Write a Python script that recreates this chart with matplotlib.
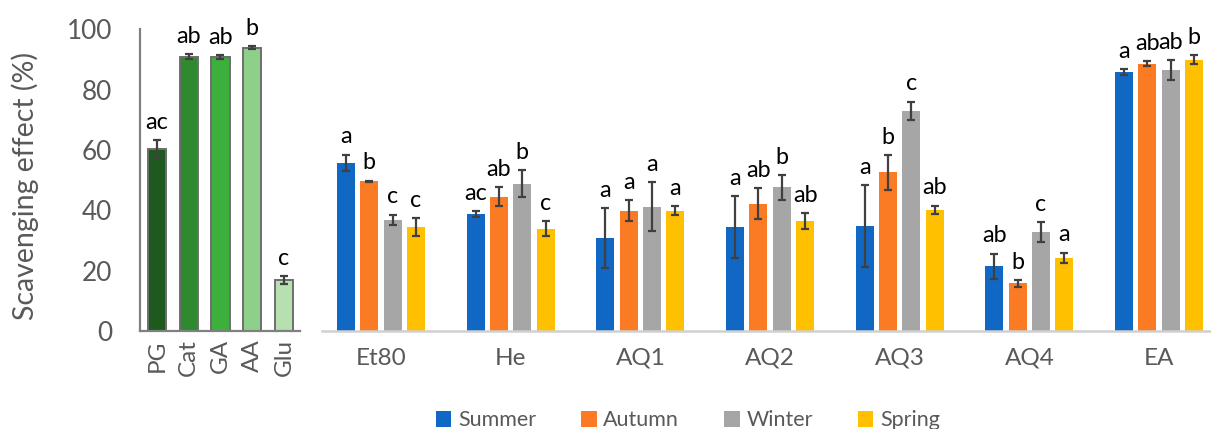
import matplotlib
matplotlib.use("Agg")
import matplotlib.pyplot as plt
from matplotlib.patches import Patch
import numpy as np

plt.rcParams["font.family"] = ["Lato", "DejaVu Sans"]

# Reference antioxidants
std_names = ["PG", "Cat", "GA", "AA", "Glu"]
std_values = [60.3, 91.0, 90.8, 94.0, 16.8]
std_errors = [2.9, 0.9, 0.7, 0.5, 1.3]
std_letters = ["ac", "ab", "ab", "b", "c"]
std_colors = ["#1E5A1E", "#2F8A2F", "#3DAF3D", "#8ED08A", "#B7DFB0"]

# Extracts by season
extracts = ["Et80", "He", "AQ1", "AQ2", "AQ3", "AQ4", "EA"]
seasons = ["Summer", "Autumn", "Winter", "Spring"]
season_colors = ["#1068C4", "#FB7A24", "#A6A6A6", "#FFC000"]

summer = [55.7, 38.9, 30.8, 34.5, 34.9, 21.4, 85.9]
autumn = [49.6, 44.6, 39.9, 42.2, 52.6, 15.8, 88.7]
winter = [36.9, 48.9, 41.2, 47.6, 73.1, 32.8, 86.5]
spring = [34.5, 33.9, 39.9, 36.5, 40.2, 24.2, 89.9]

summer_err = [2.8, 1.0, 9.9, 10.2, 13.6, 4.3, 1.1]
autumn_err = [0.3, 3.2, 3.4, 5.1, 5.8, 1.1, 0.8]
winter_err = [1.7, 4.4, 8.1, 4.2, 3.0, 3.4, 3.4]
spring_err = [3.0, 2.5, 1.4, 2.7, 1.4, 1.8, 1.5]

summer_letters = ["a", "ac", "a", "a", "a", "ab", "a"]
autumn_letters = ["b", "ab", "a", "ab", "b", "b", "ab"]
winter_letters = ["c", "b", "a", "b", "c", "c", "ab"]
spring_letters = ["c", "c", "a", "ab", "ab", "a", "b"]

season_values = [summer, autumn, winter, spring]
season_errors = [summer_err, autumn_err, winter_err, spring_err]
season_letters = [summer_letters, autumn_letters, winter_letters, spring_letters]

TEXT_GREY = "#595959"
ERR_COLOR = "#404040"
err_kw = dict(ecolor=ERR_COLOR, elinewidth=1.6, capsize=3.2, capthick=1.6)
LETTER_SIZE = 16.8

fig = plt.figure(figsize=(12.11, 4.29), dpi=100)

# ---- left panel: standards ----
ax1 = fig.add_axes([0.1156, 0.2284, 0.132, 0.703])
x1 = np.arange(len(std_names))
ax1.bar(x1, std_values, width=0.57, color=std_colors, edgecolor="#6E6E6E",
        linewidth=1.4, yerr=std_errors, error_kw=err_kw, zorder=2)
for xi, v, e, lab in zip(x1, std_values, std_errors, std_letters):
    ax1.annotate(lab, (xi, v + e), xytext=(0, 8), textcoords="offset points",
                 ha="center", va="baseline", fontsize=LETTER_SIZE, color="black")
ax1.set_xlim(-0.535, 4.5)
ax1.set_ylim(0, 100)
ax1.set_yticks(range(0, 101, 20))
ax1.set_xticks(x1)
ax1.set_xticklabels(std_names, rotation=90, fontsize=17.5, color=TEXT_GREY)
ax1.tick_params(axis="y", labelsize=18.8, colors=TEXT_GREY, length=0, pad=20)
ax1.tick_params(axis="x", length=0, pad=6)
ax1.set_ylabel("Scavenging effect (%)", fontsize=20.5, color=TEXT_GREY)
ax1.yaxis.set_label_coords(-0.63, 0.48)
for side in ["top", "right"]:
    ax1.spines[side].set_visible(False)
for side in ["left", "bottom"]:
    ax1.spines[side].set_color("#808080")
    ax1.spines[side].set_linewidth(1.6)

# ---- right panel: extracts ----
ax2 = fig.add_axes([0.2659, 0.2284, 0.7341, 0.703])
x2 = np.arange(len(extracts))
step = 0.18
bw = 0.139
for i, (vals, errs, letters, col) in enumerate(
        zip(season_values, season_errors, season_letters, season_colors)):
    pos = x2 + (i - 1.5) * step
    ax2.bar(pos, vals, width=bw, color=col, yerr=errs, error_kw=err_kw, zorder=2)
    for xi, v, e, lab in zip(pos, vals, errs, letters):
        ax2.annotate(lab, (xi, v + e), xytext=(0, 8), textcoords="offset points",
                     ha="center", va="baseline", fontsize=LETTER_SIZE, color="black")
ax2.set_xlim(-0.455, 6.4)
ax2.set_ylim(0, 100)
ax2.set_xticks(x2)
ax2.set_xticklabels(extracts, fontsize=17.5, color=TEXT_GREY)
ax2.tick_params(axis="x", length=0, pad=12)
ax2.set_yticks([])
for side in ["top", "right", "left"]:
    ax2.spines[side].set_visible(False)
ax2.spines["bottom"].set_color("#D0D0D0")
ax2.spines["bottom"].set_linewidth(1.8)

handles = [Patch(facecolor=c, label=s) for s, c in zip(seasons, season_colors)]
leg = fig.legend(handles=handles, loc="center", bbox_to_anchor=(0.568, 0.02),
                 ncol=4, frameon=False, fontsize=15.5, handlelength=0.72,
                 handleheight=0.72, handletextpad=0.3, columnspacing=2.1)
for t in leg.get_texts():
    t.set_color(TEXT_GREY)

fig.savefig("out.png", dpi=100)
